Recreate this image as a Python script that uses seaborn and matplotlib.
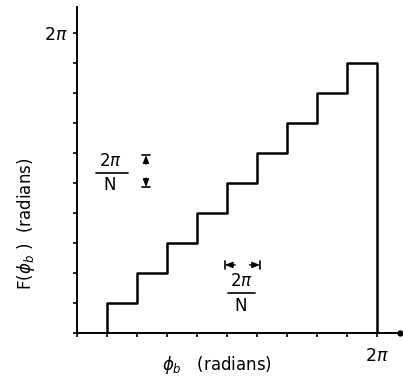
import matplotlib
matplotlib.use("Agg")
import matplotlib.pyplot as plt
import seaborn as sns
import numpy as np
import pandas as pd

# ---- data (in units of one step, 2*pi/N) ----
N = 10
phase_steps = [0, 1, 2, 3, 4, 5, 6, 7, 8, 9, 10, 10]
F_levels    = [0, 1, 2, 3, 4, 5, 6, 7, 8, 9, 9, 0]
tick_steps  = [0, 1, 2, 3, 4, 5, 6, 7, 8, 9, 10]
tick_labels = ["", "", "", "", "", "", "", "", "", "", r"2$\pi$"]

unit = 2 * np.pi / N
df = pd.DataFrame({"phi": np.array(phase_steps) * unit,
                   "F": np.array(F_levels) * unit})

sns.set_style("ticks")
plt.rcParams["font.family"] = ["DejaVu Sans"]
plt.rcParams["mathtext.fontset"] = "dejavusans"
plt.rcParams["text.color"] = "black"
plt.rcParams["xtick.color"] = "black"
plt.rcParams["ytick.color"] = "black"
plt.rcParams["xtick.labelcolor"] = "black"
plt.rcParams["ytick.labelcolor"] = "black"

fig = plt.figure(figsize=(4.03, 3.83), dpi=100)
ax = fig.add_axes([77 / 403, 50 / 383, 326 / 403, 326 / 383])

sns.lineplot(data=df, x="phi", y="F", sort=False, estimator=None,
             drawstyle="steps-post", color="black", lw=1.8, ax=ax)

top = 10.87 * unit
ax.set_xlim(0, top)
ax.set_ylim(0, top)
sns.despine(ax=ax)
for s in ("left", "bottom"):
    ax.spines[s].set_linewidth(1.4)
    ax.spines[s].set_color("black")

ticks = np.array(tick_steps) * unit
ax.set_xticks(ticks)
ax.set_yticks(ticks)
ax.set_xticklabels(tick_labels, fontsize=12.5, color="black")
ax.set_yticklabels(tick_labels, fontsize=12.5, color="black")
ax.tick_params(axis="both", direction="out", length=3, width=1.2, color="black")
ax.tick_params(axis="x", pad=7)
ax.tick_params(axis="y", pad=4)
ax.set_xlabel("")
ax.set_ylabel("")

# end dot of x axis
ax.plot([10.77 * unit], [0], "o", color="black", ms=3.5, clip_on=False)

# axis labels
fig.text(217 / 403, 1 - 365 / 383, r"$\phi_b$   (radians)", ha="center", va="center",
         fontsize=12, color="black")
fig.text(26 / 403, 1 - 224 / 383, r"F($\phi_b$ )  (radians)", ha="center", va="center",
         rotation=90, fontsize=12, color="black")

# fractions 2pi/N
def fraction(xc, y_num, y_bar, y_den, x0, x1):
    ax.text(xc * unit, y_num * unit, r"2$\pi$", ha="center", va="center", fontsize=12, color="black")
    ax.plot([x0 * unit, x1 * unit], [y_bar * unit] * 2, color="black", lw=1.2)
    ax.text(xc * unit, y_den * unit, "N", ha="center", va="center", fontsize=12, color="black")

fraction(1.1, 5.73, 5.33, 4.93, 0.63, 1.7)
fraction(5.47, 1.73, 1.33, 0.9, 5.03, 5.93)

arrow = dict(arrowstyle="-|>,head_length=0.45,head_width=0.18", color="black", lw=1.0,
             shrinkA=0, shrinkB=0)

# vertical dimension marker
vx, vtop, vbot = 2.3, 5.93, 4.87
ax.annotate("", xy=(vx * unit, vtop * unit), xytext=(vx * unit, (vtop - 0.3) * unit), arrowprops=arrow)
ax.annotate("", xy=(vx * unit, vbot * unit), xytext=(vx * unit, (vbot + 0.3) * unit), arrowprops=arrow)
for yb in (vtop, vbot):
    ax.plot([(vx - 0.12) * unit, (vx + 0.12) * unit], [yb * unit] * 2, color="black", lw=1.2)

# horizontal dimension marker
hy, hl, hr = 2.27, 4.93, 6.1
ax.annotate("", xy=(hl * unit, hy * unit), xytext=((hl + 0.35) * unit, hy * unit), arrowprops=arrow)
ax.annotate("", xy=(hr * unit, hy * unit), xytext=((hr - 0.35) * unit, hy * unit), arrowprops=arrow)
for xb in (hl, hr):
    ax.plot([xb * unit] * 2, [(hy - 0.12) * unit, (hy + 0.12) * unit], color="black", lw=1.2)

fig.savefig("out.png", dpi=100)
